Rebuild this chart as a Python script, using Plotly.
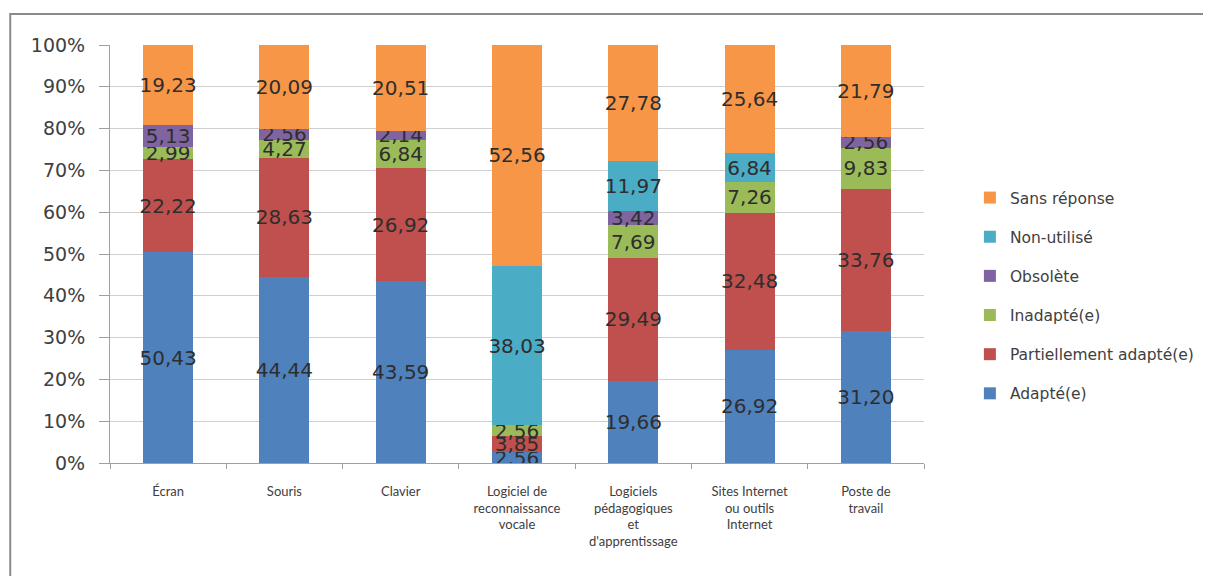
import plotly.graph_objects as go

categories = ["Écran", "Souris", "Clavier",
              "Logiciel de<br>reconnaissance<br>vocale",
              "Logiciels<br>pédagogiques<br>et<br>d'apprentissage",
              "Sites Internet<br>ou outils<br>Internet",
              "Poste de<br>travail"]

adapte = [50.43, 44.44, 43.59, 2.56, 19.66, 26.92, 31.20]
partiel = [22.22, 28.63, 26.92, 3.85, 29.49, 32.48, 33.76]
inadapte = [2.99, 4.27, 6.84, 2.56, 7.69, 7.26, 9.83]
obsolete = [5.13, 2.56, 2.14, 0, 3.42, 0, 2.56]
non_utilise = [0, 0, 0, 38.03, 11.97, 6.84, 0]
sans_reponse = [19.23, 20.09, 20.51, 52.56, 27.78, 25.64, 21.79]

series = [
    ("Adapté(e)", adapte, "#4F81BD"),
    ("Partiellement adapté(e)", partiel, "#C0504D"),
    ("Inadapté(e)", inadapte, "#9BBB59"),
    ("Obsolète", obsolete, "#8064A2"),
    ("Non-utilisé", non_utilise, "#4BACC6"),
    ("Sans réponse", sans_reponse, "#F79646"),
]

LBL = "DejaVu Sans"
CAT = "Lato"

# plot area in page pixels (page has an 8px body offset)
PL, PR, PT, PB = 110, 926, 45, 463
OFF = 8
W, H = 1203, 568
pw, ph = PR - PL, PB - PT

fig = go.Figure()
n = len(series)
for i, (name, vals, color) in enumerate(series):
    txt = [("%.2f" % v).replace(".", ",") if v > 0 else "" for v in vals]
    fig.add_trace(go.Bar(
        x=categories, y=vals, name=name, legendgroup=name,
        legendrank=n - i,
        marker=dict(color=color, line=dict(width=0)),
        text=txt, textposition="inside", insidetextanchor="middle",
        textangle=0, constraintext="none",
        textfont=dict(family=LBL, size=20, color="#2e2e2e"),
        hoverinfo="x+y+name",
    ))

bx = (10 - PL) / pw
by = (PB - 14) / ph
border_path = "M %f,%f L %f,%f L %f,%f" % (bx, -1.0, bx, by, 2.0, by)

fig.update_layout(
    barmode="stack", barnorm="percent", bargap=0.57,
    width=W, height=H,
    margin=dict(l=PL - OFF, r=W - (PR - OFF), t=PT - OFF, b=H - (PB - OFF)),
    paper_bgcolor="white", plot_bgcolor="white",
    font=dict(family=LBL, color="#404040"),
    legend=dict(x=(972 - PL) / pw, y=(PB - 181) / ph,
                xanchor="left", yanchor="top",
                traceorder="grouped", tracegroupgap=16,
                font=dict(family=LBL, size=15.5, color="#404040")),
    showlegend=True,
    shapes=[dict(type="path", xref="paper", yref="paper",
                 path=border_path,
                 line=dict(color="#8a8a8a", width=2), layer="above")],
)

fig.update_yaxes(range=[0, 100], dtick=10, ticksuffix="%",
                 showgrid=True, gridcolor="#d0d0d0", gridwidth=1,
                 showline=True, linecolor="#a0a0a0", linewidth=1,
                 ticks="outside", ticklen=10, tickcolor="#a0a0a0",
                 ticklabelstandoff=10,
                 tickfont=dict(family=LBL, size=19, color="#404040"),
                 zeroline=False)
fig.update_xaxes(showline=True, linecolor="#a0a0a0", linewidth=1,
                 ticks="outside", ticklen=5, tickcolor="#a0a0a0",
                 tickson="boundaries", ticklabelstandoff=16,
                 tickfont=dict(family=CAT, size=13, color="#404040"))

fig.write_html("out.html")
